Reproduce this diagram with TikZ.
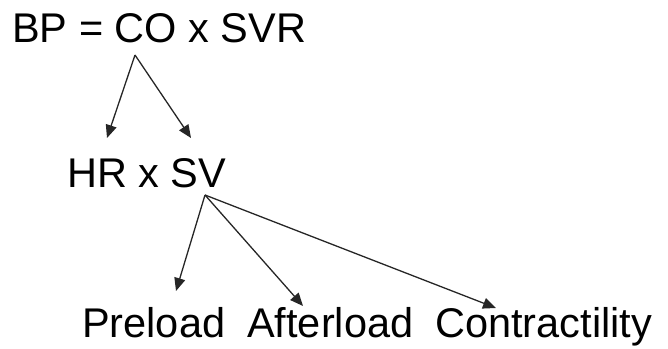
\documentclass[tikz,border=0pt]{standalone}
\usepackage{fontspec}
\setmainfont{Liberation Sans}
\usetikzlibrary{arrows.meta}
\begin{document}
\begin{tikzpicture}[x=1pt,y=-1pt,
  lbl/.style={anchor=base west,inner sep=0pt,font=\fontsize{41.5}{48}\selectfont},
  arr/.style={line width=1.3pt,draw=black!85,-{Triangle[length=13pt,width=11pt]}}]
\useasboundingbox (0,0) rectangle (668,348);
\node[lbl] (bp) at (12,42) {BP = CO x SVR};
\node[lbl] (hr) at (67,187) {HR x SV};
\node[lbl] (pre) at (82,337) {Preload};
\node[lbl] (aft) at (247,337) {Afterload};
\node[lbl] (con) at (435,337) {Contractility};
\coordinate (s1) at (135,55);
\coordinate (e1) at (107,138);
\coordinate (e2) at (191,138);
\coordinate (s2) at (205,195);
\coordinate (e3) at (176,291);
\coordinate (e4) at (303,306);
\coordinate (e5) at (496,308);
\draw[arr] (s1) -- (e1);
\draw[arr] (s1) -- (e2);
\draw[arr] (s2) -- (e3);
\draw[arr] (s2) -- (e4);
\draw[arr] (s2) -- (e5);
\end{tikzpicture}
\end{document}
